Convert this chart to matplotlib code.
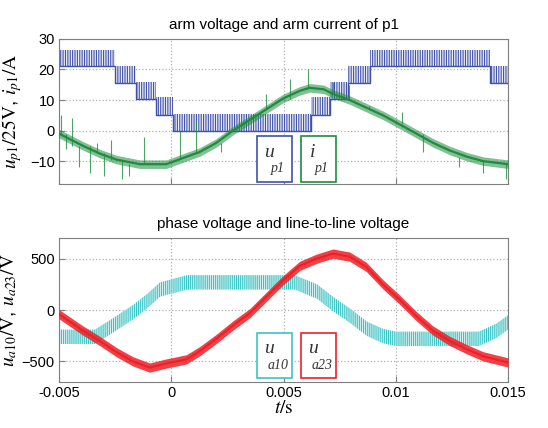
import matplotlib.pyplot as plt
from matplotlib.patches import Rectangle

plt.rcParams['font.family'] = ['Liberation Sans', 'DejaVu Sans']
plt.rcParams['mathtext.fontset'] = 'stix'
plt.rcParams['hatch.linewidth'] = 0.8

# arm voltage u_p1/25V : stair levels (band low..high) between switching edges
up_edges = [-0.005, -0.00252, -0.00155, -0.00066, 0.00008, 0.00624, 0.00706, 0.00788, 0.00884, 0.01419, 0.015]
up_low = [21, 15.5, 10.5, 5, 0, 5, 10.5, 15.5, 21, 15.5]
up_high = [26.5, 21, 16, 11, 5.5, 11, 16, 21, 26.5, 21]

# arm current i_p1
ip_t = [-0.005, -0.00393, -0.00319, -0.00244, -0.0014, -0.00022, 0.00052, 0.00127, 0.00201,
        0.00275, 0.0035, 0.00424, 0.00498, 0.00572, 0.00617, 0.0068, 0.0072, 0.00795, 0.00869,
        0.00943, 0.01018, 0.01092, 0.01166, 0.0124, 0.01315, 0.01389, 0.015]
ip_v = [-1, -5, -7.5, -9.5, -11, -11, -9, -7, -4, 0, 3.5, 7, 10.5, 13, 14, 13.5, 12, 10,
        7.5, 5, 2, -1, -4, -6.5, -8.5, -10, -11]
# visible spikes on i_p1
spike_t = [-0.0049, -0.0047, -0.0044, -0.0041, -0.0036, -0.0033, -0.0030, -0.0027, -0.0022,
           -0.0019, -0.0012, 0.0004, 0.0011, 0.0022, 0.0042, 0.0050, 0.0053, 0.0061, 0.0072,
           0.0079, 0.0088, 0.0103, 0.0112, 0.0128, 0.0139, 0.0149]
spike_v = [5, -6, 4, -12, -14, -4, -15, -3, -16, -15, -2, 0, 3, -7, 12, 10, 17, 20, 16,
           15, 8, 6, -7, -12, -14, -16]

# phase voltage u_a10 (centre of rippled band)
ua10_t = [-0.005, -0.0034, -0.0026, -0.0017, -0.0010, -0.0005, 0.0007, 0.0055, 0.0065,
          0.0072, 0.0080, 0.0087, 0.0094, 0.0100, 0.0137, 0.0145, 0.015]
ua10_v = [-260, -260, -150, -20, 100, 200, 270, 270, 180, 60, -60, -180, -250, -280, -280,
          -200, -120]

# line-to-line voltage u_a23
ua23_t = [-0.005, -0.00393, -0.00319, -0.00244, -0.0017, -0.00096, -0.00022, 0.00067, 0.00127,
          0.00201, 0.00275, 0.0035, 0.00424, 0.00498, 0.00572, 0.00647, 0.0072, 0.00795,
          0.00869, 0.00943, 0.01018, 0.01092, 0.01166, 0.0124, 0.01315, 0.01389, 0.015]
ua23_v = [-40, -200, -300, -410, -500, -560, -520, -480, -400, -280, -150, -30, 130, 290,
          430, 500, 550, 520, 420, 250, 100, -60, -200, -300, -380, -450, -510]

blue = '#3f51a8'
green = '#1e8c3e'
cyan = '#3cc4c4'
red = '#ee2027'
frame = '#7f7f7f'

fig = plt.figure(figsize=(5.48, 4.28), dpi=100)
ax1 = fig.add_axes([0.1077, 0.570, 0.8193, 0.339])
ax2 = fig.add_axes([0.1077, 0.1075, 0.8193, 0.336])


def style(ax):
    for s in ax.spines.values():
        s.set_color(frame)
        s.set_linewidth(0.8)
    ax.tick_params(direction='in', length=4, color=frame, labelsize=10.5, pad=3)
    ax.grid(True, linestyle=':', color='#b0b0b0', linewidth=0.9)
    ax.set_axisbelow(True)
    ax.set_xlim(-0.005, 0.015)
    ax.set_xticks([-0.005, 0, 0.005, 0.01, 0.015])


def legend_box(ax, x, y, color, main, sub):
    ax.add_patch(Rectangle((x, y), 0.078, 0.315, transform=ax.transAxes, fill=True,
                           facecolor='white', edgecolor=color, linewidth=1.2, zorder=5))
    ax.text(x + 0.026, y + 0.205, main, transform=ax.transAxes, fontsize=14,
            family='Liberation Serif', style='italic', ha='center', va='center', zorder=6,
            color='#333333')
    ax.text(x + 0.046, y + 0.09, sub, transform=ax.transAxes, fontsize=10,
            family='Liberation Serif', style='italic', ha='center', va='center', zorder=6,
            color='#333333')


# top panel
style(ax1)
ax1.fill_between(up_edges, up_low + [up_low[-1]], up_high + [up_high[-1]], step='post',
                 facecolor='#eceef8', edgecolor=blue, hatch='|||||||', linewidth=0, zorder=2)
ax1.step(up_edges, up_low + [up_low[-1]], where='post', color=blue, lw=1.0, zorder=2)
ax1.vlines(spike_t, [ip_v[min(range(len(ip_t)), key=lambda i: abs(ip_t[i] - t))] for t in spike_t],
           spike_v, color=green, lw=0.8, alpha=0.8, zorder=3)
ax1.fill_between(ip_t, [v - 1.4 for v in ip_v], [v + 1.4 for v in ip_v], color=green,
                 alpha=0.55, linewidth=0, zorder=3)
ax1.plot(ip_t, ip_v, color=green, lw=1.6, zorder=4)
ax1.set_ylim(-17.5, 30)
ax1.set_yticks([-10, 0, 10, 20, 30])
ax1.set_xticklabels([])
ax1.set_title('arm voltage and arm current of p1', fontsize=11, pad=7)
ax1.set_ylabel(r'$u_{p1}/25\mathrm{V}$, $i_{p1}/\mathrm{A}$', fontsize=14, labelpad=4)
legend_box(ax1, 0.441, 0.014, blue, 'u', 'p1')
legend_box(ax1, 0.539, 0.014, green, 'i', 'p1')

# bottom panel
style(ax2)
ax2.fill_between(ua10_t, [v - 70 for v in ua10_v], [v + 70 for v in ua10_v],
                 facecolor='#def5f5', edgecolor=cyan, hatch='||||||||', linewidth=0, zorder=2)
ax2.fill_between(ua23_t, [v - 45 for v in ua23_v], [v + 45 for v in ua23_v], color=red,
                 alpha=0.85, linewidth=0, zorder=3)
ax2.plot(ua23_t, ua23_v, color=red, lw=1.5, zorder=4)
ax2.set_ylim(-700, 700)
ax2.set_yticks([-500, 0, 500])
ax2.set_xticklabels(['-0.005', '0', '0.005', '0.01', '0.015'])
ax2.set_title('phase voltage and line-to-line voltage', fontsize=11, pad=7)
ax2.set_ylabel(r'$u_{a10}/\mathrm{V}$, $u_{a23}/\mathrm{V}$', fontsize=14, labelpad=2)
ax2.set_xlabel(r'$t/\mathrm{s}$', fontsize=14, labelpad=0)
legend_box(ax2, 0.441, 0.028, cyan, 'u', 'a10')
legend_box(ax2, 0.539, 0.028, red, 'u', 'a23')

fig.savefig('out.png', dpi=100)
